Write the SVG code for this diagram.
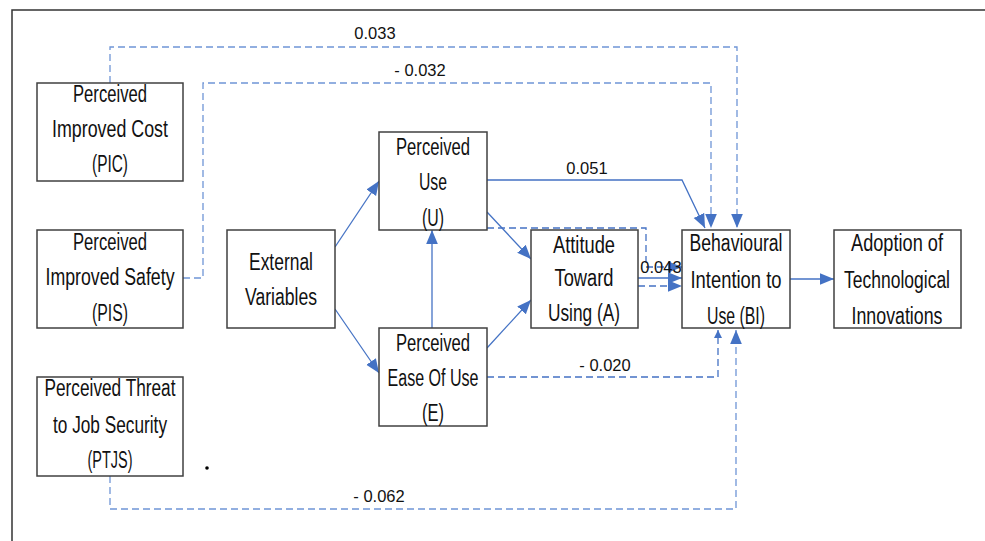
<svg xmlns="http://www.w3.org/2000/svg" width="985" height="541" viewBox="0 0 985 541">
<defs>
<marker id="ah" markerUnits="userSpaceOnUse" markerWidth="14" markerHeight="14" viewBox="0 0 12 10" refX="12" refY="5" orient="auto">
<path d="M0,0 L12,5 L0,10 Z" fill="#4472C4"/>
</marker>
<marker id="ahs" markerUnits="userSpaceOnUse" markerWidth="8" markerHeight="8" viewBox="0 0 8 8" refX="8" refY="4" orient="auto">
<path d="M0,0 L8,4 L0,8 Z" fill="#4472C4"/>
</marker>
<style>
.box{fill:#fff;stroke:#404040;stroke-width:1.5}
.t{font-family:"Liberation Sans",Arial,sans-serif;font-size:23.5px;fill:#111;text-anchor:middle}
.lbl{font-family:"Liberation Sans",Arial,sans-serif;font-size:16.5px;fill:#111;text-anchor:middle}
.s{fill:none;stroke:#4472C4;stroke-width:1.3}
.d{fill:none;stroke:#4472C4;stroke-width:1.3;stroke-dasharray:7,4}
.dl{fill:none;stroke:#6F95D6;stroke-width:1.3;stroke-dasharray:7,4}
</style>
</defs>
<rect width="985" height="541" fill="#fff"/>
<path d="M12,541 V10 H985" fill="none" stroke="#333" stroke-width="1.5"/>
<circle cx="207" cy="468" r="1.8" fill="#000"/>

<g id="connectors">
<path class="dl" d="M110,83 V47 H737 V228" marker-end="url(#ah)"/>
<path class="dl" d="M183,278 H203 V83 H711 V228" marker-end="url(#ah)"/>
<path class="dl" d="M110,476 V509 H736 V330" marker-end="url(#ah)"/>
<path class="s" d="M487,180 H682 L705,228" marker-end="url(#ah)"/>
<path class="s" d="M335,247 L379,181" marker-end="url(#ah)"/>
<path class="s" d="M335,309 L379,373" marker-end="url(#ah)"/>
<path class="s" d="M432,328 V230" marker-end="url(#ah)"/>
<path class="s" d="M487,212 L531,259" marker-end="url(#ah)"/>
<path class="s" d="M487,348 L531,300" marker-end="url(#ah)"/>
<path class="d" d="M487,228 H646 V267 H682" marker-end="url(#ah)"/>
<path class="s" d="M638,278 H682" marker-end="url(#ah)"/>
<path class="d" d="M638,286 H682" marker-end="url(#ah)"/>
<path class="d" d="M487,377 H718 V330" marker-end="url(#ahs)"/>
<path class="s" d="M790,279 H834" marker-end="url(#ah)"/>
<text class="lbl" x="375" y="39">0.033</text>
<text class="lbl" x="420" y="76">- 0.032</text>
<text class="lbl" x="587" y="174">0.051</text>
<text class="lbl" x="661" y="273">0.043</text>
<text class="lbl" x="605" y="371">- 0.020</text>
<text class="lbl" x="379" y="502">- 0.062</text>
</g>

<g id="PIC">
<rect class="box" x="37" y="83" width="146" height="98"/>
<text class="t" x="110" y="102" textLength="74" lengthAdjust="spacingAndGlyphs">Perceived</text>
<text class="t" x="110" y="137" textLength="116" lengthAdjust="spacingAndGlyphs">Improved Cost</text>
<text class="t" x="110" y="172" textLength="36" lengthAdjust="spacingAndGlyphs">(PIC)</text>
</g>
<g id="PIS">
<rect class="box" x="37" y="230" width="146" height="98"/>
<text class="t" x="110" y="250" textLength="74" lengthAdjust="spacingAndGlyphs">Perceived</text>
<text class="t" x="110" y="285" textLength="129" lengthAdjust="spacingAndGlyphs">Improved Safety</text>
<text class="t" x="110" y="321" textLength="36" lengthAdjust="spacingAndGlyphs">(PIS)</text>
</g>
<g id="PTJS">
<rect class="box" x="37" y="377" width="146" height="99"/>
<text class="t" x="110" y="396" textLength="131" lengthAdjust="spacingAndGlyphs">Perceived Threat</text>
<text class="t" x="110" y="433" textLength="114" lengthAdjust="spacingAndGlyphs">to Job Security</text>
<text class="t" x="110" y="468" textLength="45" lengthAdjust="spacingAndGlyphs">(PTJS)</text>
</g>
<g id="EV">
<rect class="box" x="227" y="230" width="108" height="98"/>
<text class="t" x="281" y="270" textLength="64" lengthAdjust="spacingAndGlyphs">External</text>
<text class="t" x="281" y="305" textLength="72" lengthAdjust="spacingAndGlyphs">Variables</text>
</g>
<g id="PU">
<rect class="box" x="379" y="132" width="108" height="98"/>
<text class="t" x="433" y="155" textLength="74" lengthAdjust="spacingAndGlyphs">Perceived</text>
<text class="t" x="433" y="190" textLength="28" lengthAdjust="spacingAndGlyphs">Use</text>
<text class="t" x="433" y="226" textLength="22" lengthAdjust="spacingAndGlyphs">(U)</text>
</g>
<g id="PEOU">
<rect class="box" x="379" y="328" width="108" height="98"/>
<text class="t" x="433" y="351" textLength="74" lengthAdjust="spacingAndGlyphs">Perceived</text>
<text class="t" x="433" y="386" textLength="91" lengthAdjust="spacingAndGlyphs">Ease Of Use</text>
<text class="t" x="433" y="421" textLength="22" lengthAdjust="spacingAndGlyphs">(E)</text>
</g>
<g id="ATT">
<rect class="box" x="531" y="230" width="107" height="98"/>
<text class="t" x="584" y="253" textLength="62" lengthAdjust="spacingAndGlyphs">Attitude</text>
<text class="t" x="584" y="286" textLength="59" lengthAdjust="spacingAndGlyphs">Toward</text>
<text class="t" x="584" y="321" textLength="72" lengthAdjust="spacingAndGlyphs">Using (A)</text>
</g>
<g id="BI">
<rect class="box" x="682" y="230" width="108" height="98"/>
<text class="t" x="736" y="251" textLength="93" lengthAdjust="spacingAndGlyphs">Behavioural</text>
<text class="t" x="736" y="288" textLength="91" lengthAdjust="spacingAndGlyphs">Intention to</text>
<text class="t" x="736" y="324" textLength="58" lengthAdjust="spacingAndGlyphs">Use (BI)</text>
</g>
<g id="ADOPT">
<rect class="box" x="834" y="230" width="127" height="98"/>
<text class="t" x="897" y="251" textLength="92" lengthAdjust="spacingAndGlyphs">Adoption of</text>
<text class="t" x="897" y="288" textLength="106" lengthAdjust="spacingAndGlyphs">Technological</text>
<text class="t" x="897" y="324" textLength="91" lengthAdjust="spacingAndGlyphs">Innovations</text>
</g>
</svg>
